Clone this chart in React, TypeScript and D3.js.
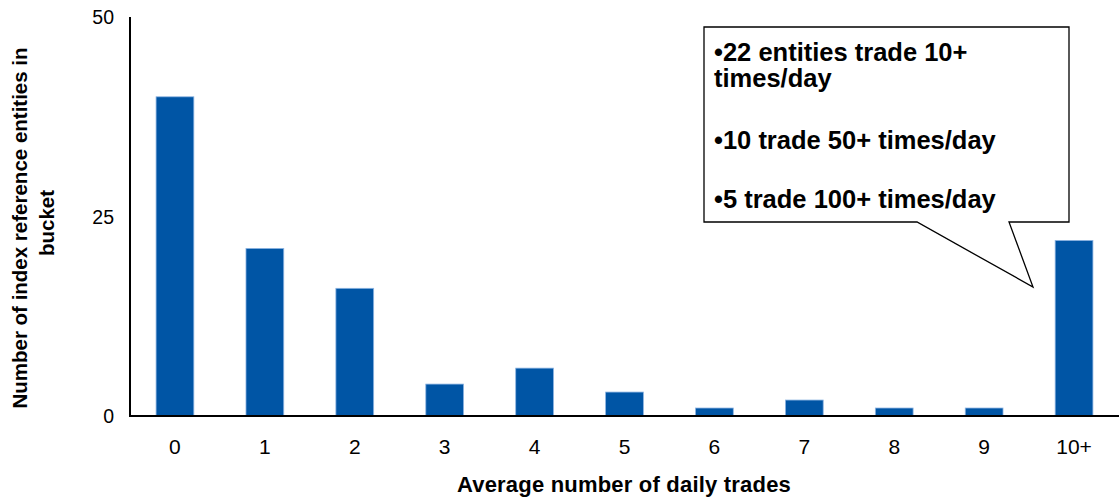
import React from "react";
import * as d3 from "d3";

const categories = ["0", "1", "2", "3", "4", "5", "6", "7", "8", "9", "10+"];
const counts = [40, 21, 16, 4, 6, 3, 1, 2, 1, 1, 22];
const yTicks = [0, 25, 50];
const calloutLines = [
  "•22 entities trade 10+",
  "times/day",
  "•10 trade 50+ times/day",
  "•5 trade 100+ times/day",
];

const W = 1119;
const H = 500;
const left = 130;
const right = 1119;
const top = 17;
const bottom = 416;
const FONT = "'Liberation Sans', Arial, sans-serif";

export default function App() {
  const x = d3.scaleBand<string>().domain(categories).range([left, right]).paddingInner(0.58).paddingOuter(0.29);
  const y = d3.scaleLinear().domain([0, 50]).range([bottom, top]);

  const box = { x0: 704, y0: 27, x1: 1069, y1: 222 };
  const tail = { a: 917, b: 1009, tipX: 1033, tipY: 287 };
  const calloutPath = `M${box.x0},${box.y0} L${box.x1},${box.y0} L${box.x1},${box.y1} L${tail.b},${box.y1} L${tail.tipX},${tail.tipY} L${tail.a},${box.y1} L${box.x0},${box.y1} Z`;
  const lineY = [61, 87, 149, 208];

  return (
    <svg width={W} height={H} style={{ position: "absolute", left: 0, top: 0, background: "#fff" }} fontFamily={FONT}>
      {categories.map((c, i) => (
        <rect
          key={c}
          x={x(c)}
          y={y(counts[i])}
          width={x.bandwidth()}
          height={y(0) - y(counts[i])}
          fill="#0055A5"
          stroke="#8DB4E2"
          strokeWidth={0.8}
        />
      ))}
      <line x1={left} x2={left} y1={top} y2={bottom} stroke="#000" strokeWidth={2} />
      <line x1={left - 1} x2={right} y1={bottom} y2={bottom} stroke="#000" strokeWidth={2} />
      {yTicks.map((t) => (
        <text key={t} x={114} y={y(t)} dy="0.36em" textAnchor="end" fontSize={19.5} fill="#000">
          {t}
        </text>
      ))}
      {categories.map((c) => (
        <text key={c} x={(x(c) as number) + x.bandwidth() / 2} y={454} textAnchor="middle" fontSize={21} fill="#000">
          {c}
        </text>
      ))}
      <text x={624} y={492} textAnchor="middle" fontSize={22} fontWeight="bold" letterSpacing={0.2} fill="#000">
        Average number of daily trades
      </text>
      <text transform="translate(27,228) rotate(-90)" textAnchor="middle" fontSize={20.5} fontWeight="bold" fill="#000">
        Number of index reference entities in
      </text>
      <text transform="translate(54,223) rotate(-90)" textAnchor="middle" fontSize={20.5} fontWeight="bold" fill="#000">
        bucket
      </text>
      <path d={calloutPath} fill="#fff" stroke="#000" strokeWidth={1.3} />
      {calloutLines.map((l, i) => (
        <text key={i} x={714} y={lineY[i]} fontSize={25.5} fontWeight="bold" fill="#000">
          {l}
        </text>
      ))}
    </svg>
  );
}
